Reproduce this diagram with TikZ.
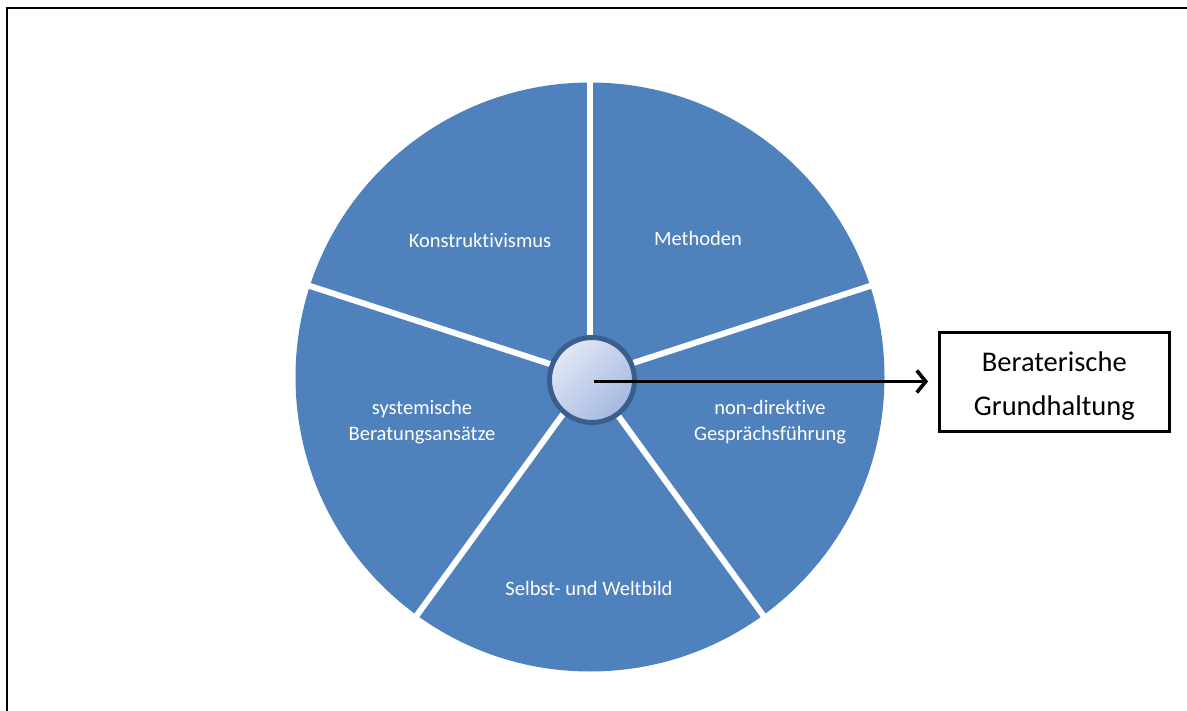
\documentclass[tikz,border=0pt]{standalone}
\usepackage{fontspec}
\setmainfont{Carlito}[Ligatures={NoCommon}]
\usetikzlibrary{arrows.meta}
\definecolor{pieblue}{HTML}{4F81BD}
\definecolor{hubborder}{HTML}{3A5F8F}
\definecolor{hublight}{HTML}{E2E8F5}
\definecolor{hubdark}{HTML}{A4B8E0}
\tikzset{
  frameline/.style={line width=2pt, black},
  divider/.style={line width=6pt, white},
  seglabel/.style={text=white, align=center, font=\fontsize{20.5}{25.5}\selectfont, inner sep=0pt},
  hub/.style={circle, minimum size=85pt, inner sep=0pt, draw=hubborder, line width=5pt,
              top color=hublight, bottom color=hubdark, shading angle=45},
  resultbox/.style={draw=black, line width=2.4pt, minimum width=230pt, minimum height=99pt,
              align=center, font=\fontsize{28.5}{44}\selectfont, inner sep=0pt},
  mainarrow/.style={line width=3.6pt, -{Straight Barb[length=9pt,width=22pt]}}
}
\begin{document}
\begin{tikzpicture}[x=1pt,y=-1pt]
\useasboundingbox (0,0) rectangle (1187,711);
\draw[frameline] (6.7,711) -- (6.7,7.7) -- (1187,7.7);
\coordinate (pc) at (590,377);
\fill[pieblue] (pc) circle (294.5);
\foreach \a in {-90,-18,54,126,198} {
  \draw[divider] (pc) -- ++(\a:300);
}
\node[seglabel] (konstr) at (480,240) {Konstruktivismus};
\node[seglabel] (meth) at (698,238) {Methoden};
\node[seglabel] (nondir) at (770,422) {non-direktive\\Gesprächsführung};
\node[seglabel] (selbst) at (589,588) {Selbst- und Weltbild};
\node[seglabel] (system) at (422,422) {systemische\\Beratungsansätze};
\node[hub] (hubc) at (592,380) {};
\node[resultbox] (box) at (1054.3,382.2) {};
\node[align=center, font=\fontsize{28.5}{44}\selectfont, inner sep=0pt] (boxtext) at (1054.3,386) {Beraterische\\Grundhaltung};
\coordinate (arrstart) at (594,381.5);
\draw[mainarrow, shorten >=10pt] (arrstart) -- (arrstart -| box.west);
\end{tikzpicture}
\end{document}
